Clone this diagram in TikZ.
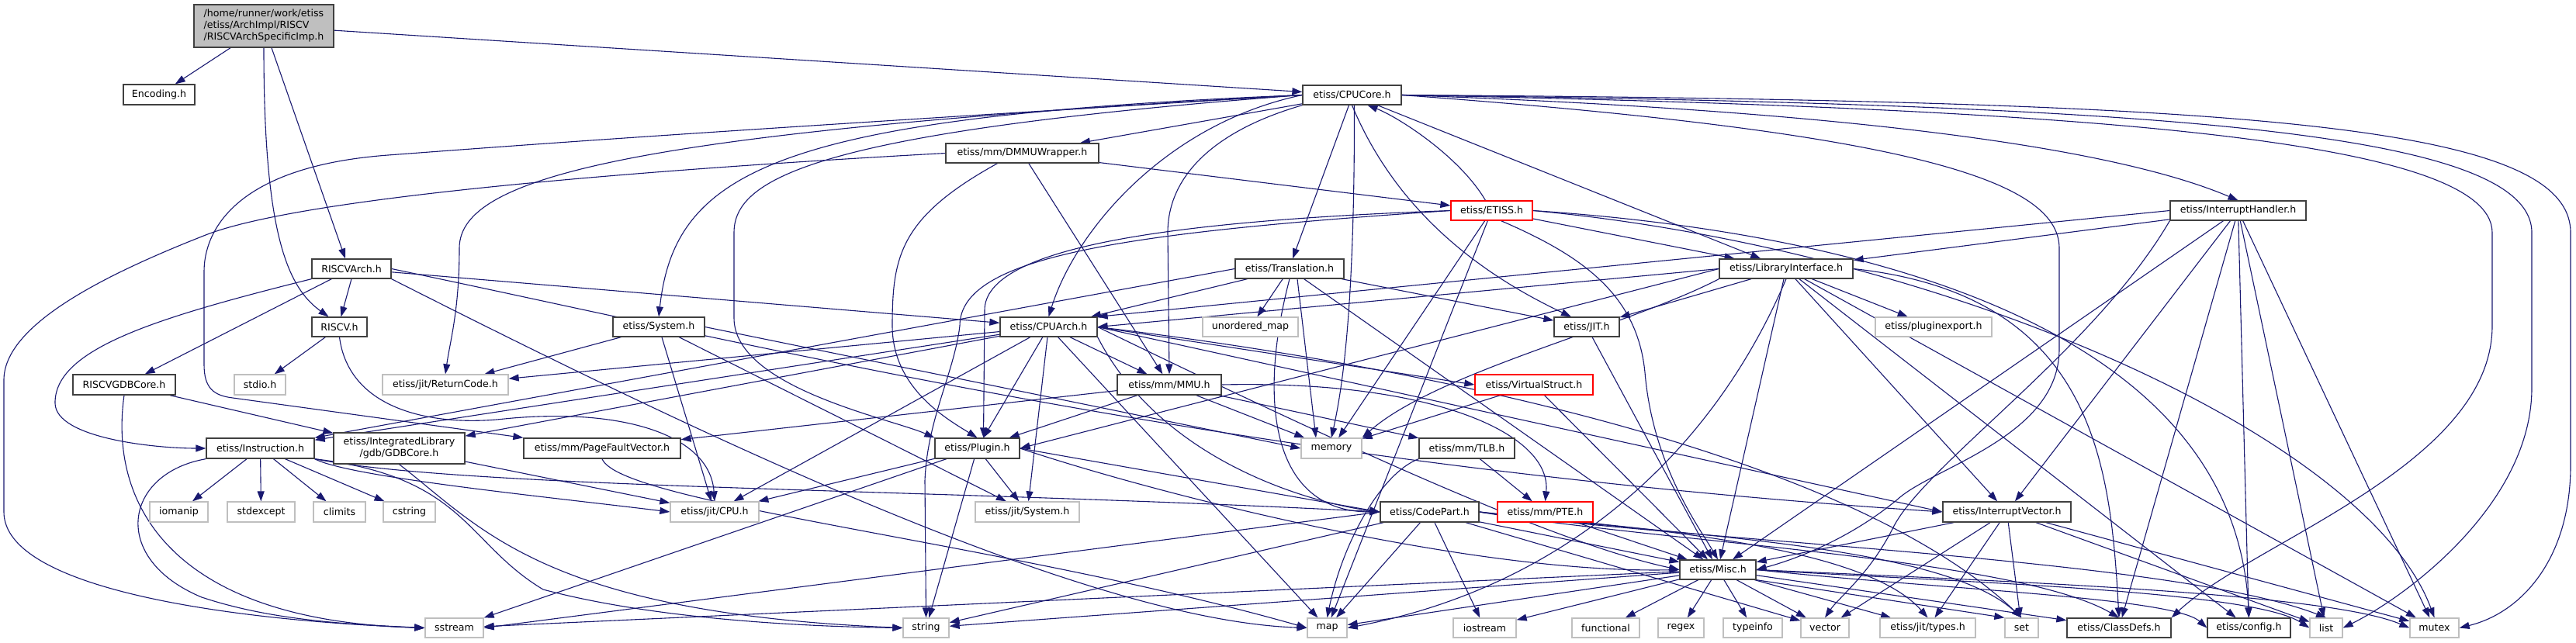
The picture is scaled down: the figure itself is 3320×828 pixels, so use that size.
\documentclass[tikz,border=0pt]{standalone}
\usepackage{fontspec}
\setmainfont{DejaVu Sans}
\usetikzlibrary{arrows.meta}
\definecolor{edgec}{HTML}{191970}
\definecolor{gbord}{HTML}{BFBFBF}
\pgfdeclarelayer{bg}
\pgfsetlayers{bg,main}
\newcommand\nd[7]{\node[#6, minimum width={(#3-#2)*1pt}, minimum height={(#5-#4)*1pt}] (#1) at ({(#2+#3)/2},{(#4+#5)/2}) {#7};}
\newcommand\E[2]{\draw[edg] (#1) -- (#2);}
\begin{document}
\begin{tikzpicture}[x=1pt,y=-1pt,
  edg/.style={draw=edgec, line width=1.1pt, -{Triangle[length=13pt,width=9pt]}},
  base/.style={rectangle, fill=white, inner sep=0pt, font=\fontsize{12.6}{15}\selectfont, line width=1.3pt},
  nb/.style={base, draw=black!75},
  ng/.style={base, draw=gbord},
  nr/.style={base, draw=red},
  nh/.style={base, draw=black!75, fill=gbord, align=left},
]
\useasboundingbox (0,0) rectangle (3320,828);
% nodes
\nd{home}{250}{430}{6}{61}{nh}{/home/runner/work/etiss\\/etiss/ArchImpl/RISCV\\/RISCVArchSpecificImp.h}
\nd{enc}{159}{251}{109}{135}{nb}{Encoding.h}
\nd{core}{1679}{1806}{110}{135}{nb}{etiss/CPUCore.h}
\nd{dmmu}{1219}{1416}{185}{210}{nb}{etiss/mm/DMMUWrapper.h}
\nd{etiss}{1870}{1975}{259}{284}{nr}{etiss/ETISS.h}
\nd{ih}{2797}{2972}{259}{284}{nb}{etiss/InterruptHandler.h}
\nd{rarch}{402}{504}{334}{359}{nb}{RISCVArch.h}
\nd{trans}{1592}{1732}{334}{359}{nb}{etiss/Translation.h}
\nd{lib}{2216}{2388}{334}{359}{nb}{etiss/LibraryInterface.h}
\nd{riscv}{402}{473}{409}{434}{nb}{RISCV.h}
\nd{sys}{790}{908}{409}{434}{nb}{etiss/System.h}
\nd{arch}{1289}{1414}{409}{434}{nb}{etiss/CPUArch.h}
\nd{umap}{1550}{1673}{409}{434}{ng}{unordered\_map}
\nd{jit}{2003}{2087}{409}{434}{nb}{etiss/JIT.h}
\nd{pexp}{2417}{2567}{409}{434}{ng}{etiss/pluginexport.h}
\nd{gdbr}{94}{226}{483}{509}{nb}{RISCVGDBCore.h}
\nd{stdio}{302}{368}{483}{509}{ng}{stdio.h}
\nd{ret}{493}{655}{483}{509}{ng}{etiss/jit/ReturnCode.h}
\nd{mmu}{1440}{1574}{483}{509}{nb}{etiss/mm/MMU.h}
\nd{vs}{1901}{2053}{483}{509}{nr}{etiss/VirtualStruct.h}
\nd{instr}{266}{405}{565}{591}{nb}{etiss/Instruction.h}
\nd{gdb}{430}{599}{558}{598}{nb, align=center}{etiss/IntegratedLibrary\\/gdb/GDBCore.h}
\nd{pfv}{675}{877}{565}{591}{nb}{etiss/mm/PageFaultVector.h}
\nd{plug}{1205}{1314}{565}{591}{nb}{etiss/Plugin.h}
\nd{mem}{1677}{1755}{565}{591}{ng}{memory}
\nd{tlb}{1829}{1952}{565}{591}{nb}{etiss/mm/TLB.h}
\nd{iomanip}{193}{268}{647}{673}{ng}{iomanip}
\nd{stdexc}{293}{380}{647}{673}{ng}{stdexcept}
\nd{climits}{404}{471}{647}{673}{ng}{climits}
\nd{cstring}{494}{561}{647}{673}{ng}{cstring}
\nd{jcpu}{864}{978}{647}{673}{ng}{etiss/jit/CPU.h}
\nd{jsys}{1257}{1391}{647}{673}{ng}{etiss/jit/System.h}
\nd{cp}{1779}{1906}{647}{673}{nb}{etiss/CodePart.h}
\nd{pte}{1930}{2053}{647}{673}{nr}{etiss/mm/PTE.h}
\nd{iv}{2504}{2669}{647}{673}{nb}{etiss/InterruptVector.h}
\nd{misc}{2165}{2263}{722}{747}{nb}{etiss/Misc.h}
\nd{sstream}{548}{623}{797}{822}{ng}{sstream}
\nd{string}{1164}{1223}{797}{822}{ng}{string}
\nd{map}{1685}{1736}{797}{822}{ng}{map}
\nd{iostream}{1873}{1954}{797}{822}{ng}{iostream}
\nd{functional}{2026}{2113}{797}{822}{ng}{functional}
\nd{regex}{2137}{2196}{797}{822}{ng}{regex}
\nd{typeinfo}{2221}{2297}{797}{822}{ng}{typeinfo}
\nd{vector}{2321}{2383}{797}{822}{ng}{vector}
\nd{jtypes}{2423}{2546}{797}{822}{ng}{etiss/jit/types.h}
\nd{set}{2584}{2627}{797}{822}{ng}{set}
\nd{cdefs}{2664}{2798}{797}{822}{nb}{etiss/ClassDefs.h}
\nd{config}{2845}{2952}{797}{822}{nb}{etiss/config.h}
\nd{list}{2977}{3019}{797}{822}{ng}{list}
\nd{mutex}{3106}{3169}{797}{822}{ng}{mutex}
\begin{pgfonlayer}{bg}
% home
\E{home}{enc}
\draw[edg] (home.south) .. controls (340,300) and (370,370) .. ([xshift=-14pt]riscv.north);
\draw[edg] ([xshift=10pt]home.south) -- ([xshift=-8pt]rarch.north);
\E{home}{core}
% RISCVArch
\draw[edg] (rarch.south) -- ([xshift=2pt]riscv.north);
\E{rarch}{gdbr}
\draw[edg] (rarch.south west) .. controls (200,410) and (70,450) .. (71,520) .. controls (72,565) and (200,578) .. (instr.west);
\E{rarch}{arch}
\draw[edg] (rarch.east) .. controls (1000,450) and (1600,600) .. (iv.west);
\draw[edg] (rarch.south east) .. controls (900,560) and (1400,800) .. (map.west);
% RISCV
\E{riscv}{stdio}
\draw[edg] (riscv.south) .. controls (450,530) and (560,550) .. (650,540) .. controls (800,525) and (915,560) .. (jcpu.north);
% RISCVGDBCore
\E{gdbr}{gdb}
\draw[edg] (gdbr.south) .. controls (140,650) and (220,800) .. (sstream.west);
% CPUCore
\E{core}{dmmu}
\draw[edg] ([xshift=-4pt]core.south) -- ([xshift=4pt]trans.north);
\draw[edg] (core.west) .. controls (1500,160) and (1385,300) .. (arch.north);
\draw[edg] (core.west) .. controls (1000,150) and (870,220) .. (sys.north);
\draw[edg] (core.west) .. controls (1050,170) and (946,230) .. (946,300) -- (946,410) .. controls (946,500) and (1150,540) .. (plug.north west);
\draw[edg] (core.west) .. controls (800,170) and (592,230) .. (592,320) .. controls (592,400) and (580,440) .. (ret.north);
\draw[edg] (core.west) .. controls (900,170) and (700,185) .. (500,200) .. controls (300,215) and (263,300) .. (263,350) -- (263,470) .. controls (263,500) and (275,510) .. (300,513) -- (pfv.north west);
\draw[edg] (core.east) .. controls (2300,140) and (2700,180) .. (ih.north);
\E{core}{lib}
\draw[edg] (core.south) .. controls (1790,250) and (1880,340) .. ([xshift=-20pt]jit.north);
\draw[edg] (core.south west) .. controls (1560,170) and (1505,230) .. (1505,300) -- (mmu.north);
\draw[edg] ([xshift=3pt]core.south) .. controls (1746,400) and (1730,500) .. (mem.north);
\draw[edg] (core.east) .. controls (2450,170) and (2654,230) .. (2654,320) -- (2654,450) .. controls (2654,560) and (2500,600) .. (2450,640) .. controls (2380,700) and (2300,725) .. (misc.east);
\draw[edg] (core.east) .. controls (2700,140) and (3212,180) .. (3212,300) -- (3212,420) .. controls (3212,600) and (2900,700) .. (cdefs.north east);
\draw[edg] (core.east) .. controls (2800,135) and (3263,170) .. (3263,300) -- (3263,500) .. controls (3263,650) and (3100,770) .. (list.east);
\draw[edg] (core.east) .. controls (2900,130) and (3313,160) .. (3313,300) -- (3313,600) .. controls (3313,720) and (3250,790) .. (mutex.east);
% DMMUWrapper
\E{dmmu}{etiss}
\E{dmmu}{mmu}
\draw[edg] ([xshift=-32pt]dmmu.south) .. controls (1160,280) and (1150,330) .. (1150,420) .. controls (1150,500) and (1220,540) .. (plug.north);
\draw[edg] (dmmu.west) .. controls (900,215) and (400,250) .. (265,303) .. controls (130,356) and (5,420) .. (5,490) -- (5,660) .. controls (5,760) and (300,800) .. (sstream.west);
% ETISS
\draw[edg] ([xshift=-8pt]etiss.north) .. controls (1880,200) and (1800,150) .. ([xshift=20pt]core.south);
\E{etiss}{lib}
\draw[edg] (etiss.west) .. controls (1500,285) and (1269,320) .. (1269,400) -- ([xshift=8pt]plug.north);
\draw[edg] (etiss.west) .. controls (1450,300) and (1237,330) .. (1237,420) .. controls (1230,480) and (1195,540) .. (1192,620) -- (string.north);
\E{etiss}{mem}
\E{etiss}{map}
\draw[edg] ([xshift=12pt]etiss.south) .. controls (2040,330) and (2110,380) .. (2120,480) .. controls (2130,600) and (2190,680) .. (misc.north);
\draw[edg] (etiss.east) .. controls (2400,300) and (2880,420) .. (config.north);
\draw[edg] (etiss.east) .. controls (2500,320) and (3050,560) .. (mutex.north);
% InterruptHandler
\E{ih}{lib}
\draw[edg] (ih.west) -- (arch.north east);
\E{ih}{iv}
\E{ih}{misc}
\E{ih}{list}
\E{ih}{mutex}
\E{ih}{config}
\E{ih}{cdefs}
\draw[edg] (ih.south west) .. controls (2700,450) and (2480,600) .. (2440,680) .. controls (2410,740) and (2370,770) .. (vector.north);
% Translation
\E{trans}{arch}
\draw[edg] (trans.west) -- (instr.north east);
\E{trans}{umap}
\E{trans}{jit}
\draw[edg] ([xshift=10pt]trans.south) -- ([xshift=-20pt]mem.north);
\draw[edg] (trans.south) .. controls (1620,520) and (1640,660) .. (cp.west);
\E{trans}{misc}
% LibraryInterface
\draw[edg] (lib.west) -- (arch.east);
\draw[edg] (lib.west) -- (plug.east);
\E{lib}{jit}
\E{lib}{pexp}
\draw[edg] (lib.south west) .. controls (2100,420) and (1850,480) .. (mem.north east);
\E{lib}{misc}
\E{lib}{iv}
\draw[edg] (lib.east) .. controls (2700,380) and (2720,600) .. (cdefs.north);
\E{lib}{config}
\draw[edg] (lib.south) .. controls (2200,600) and (2000,760) .. (map.east);
\E{lib}{mutex}
% System
\E{sys}{ret}
\E{sys}{jcpu}
\E{sys}{jsys}
\draw[edg] (sys.east) -- (mem.west);
% CPUArch
\E{arch}{instr}
\E{arch}{ret}
\E{arch}{gdb}
\E{arch}{jcpu}
\E{arch}{plug}
\E{arch}{jsys}
\E{arch}{mmu}
\draw[edg] (arch.east) -- (vs.west);
\draw[edg] (arch.east) -- (iv.west);
\E{arch}{map}
\draw[edg] (arch.east) .. controls (1900,480) and (2400,600) .. (set.north);
\draw[edg] (arch.east) .. controls (1700,560) and (2000,700) .. (misc.west);
\draw[edg] (arch.south east) .. controls (1500,600) and (1700,650) .. (cp.west);
% MMU
\E{mmu}{pfv}
\E{mmu}{plug}
\E{mmu}{tlb}
\draw[edg] (mmu.east) .. controls (1850,490) and (2000,560) .. (pte.north);
\E{mmu}{mem}
% VirtualStruct
\E{vs}{mem}
\E{vs}{misc}
% TLB
\draw[edg] (tlb.south west) .. controls (1780,610) and (1730,700) .. (map.north);
\E{tlb}{pte}
% PTE
\E{pte}{misc}
% Plugin
\draw[edg] (plug.east) -- (cp.west);
\E{plug}{jcpu}
\E{plug}{jsys}
\E{plug}{string}
\E{plug}{sstream}
\draw[edg] (plug.east) .. controls (1500,640) and (1900,740) .. (misc.west);
% Instruction
\E{instr}{iomanip}
\E{instr}{stdexc}
\E{instr}{climits}
\E{instr}{cstring}
\draw[edg] (instr.south west) .. controls (160,610) and (140,720) .. (260,770) .. controls (350,800) and (450,805) .. (sstream.west);
\draw[edg] (instr.south east) .. controls (600,615) and (600,700) .. (700,760) .. controls (850,800) and (1050,808) .. (string.west);
\draw[edg] (instr.south east) .. controls (450,615) and (700,640) .. (jcpu.west);
\draw[edg] (instr.south east) .. controls (600,630) and (1200,630) .. (cp.west);
% GDBCore
\E{gdb}{jcpu}
\draw[edg] (gdb.south) .. controls (620,680) and (700,790) .. (string.west);
% PageFaultVector
\draw[edg] (pfv.south) .. controls (800,650) and (1300,700) .. (map.west);
% CodePart
\E{cp}{misc}
\draw[edg] (cp.west) -- (sstream.east);
\E{cp}{string}
\E{cp}{map}
\E{cp}{iostream}
\E{cp}{vector}
\draw[edg] (cp.east) .. controls (2100,680) and (2400,700) .. (jtypes.north);
\draw[edg] (cp.east) .. controls (2150,690) and (2500,700) .. (set.north);
\draw[edg] (cp.east) .. controls (2200,700) and (2800,720) .. (list.north);
\draw[edg] (cp.east) .. controls (2150,700) and (2600,720) .. (cdefs.north);
% InterruptVector
\E{iv}{misc}
\E{iv}{jtypes}
\E{iv}{vector}
\E{iv}{set}
\E{iv}{list}
\E{iv}{mutex}
% Misc
\E{misc}{sstream}
\E{misc}{string}
\E{misc}{map}
\E{misc}{iostream}
\E{misc}{functional}
\E{misc}{regex}
\E{misc}{typeinfo}
\E{misc}{vector}
\E{misc}{jtypes}
\draw[edg] (misc.south east) -- (set.north west);
\E{misc}{cdefs}
\draw[edg] (misc.east) .. controls (2500,760) and (2800,770) .. (config.west);
\draw[edg] (misc.east) .. controls (2500,750) and (2900,760) .. (list.west);
\draw[edg] (misc.east) .. controls (2600,750) and (3000,765) .. (mutex.west);
% JIT
\E{jit}{misc}
\end{pgfonlayer}
\end{tikzpicture}
\end{document}
